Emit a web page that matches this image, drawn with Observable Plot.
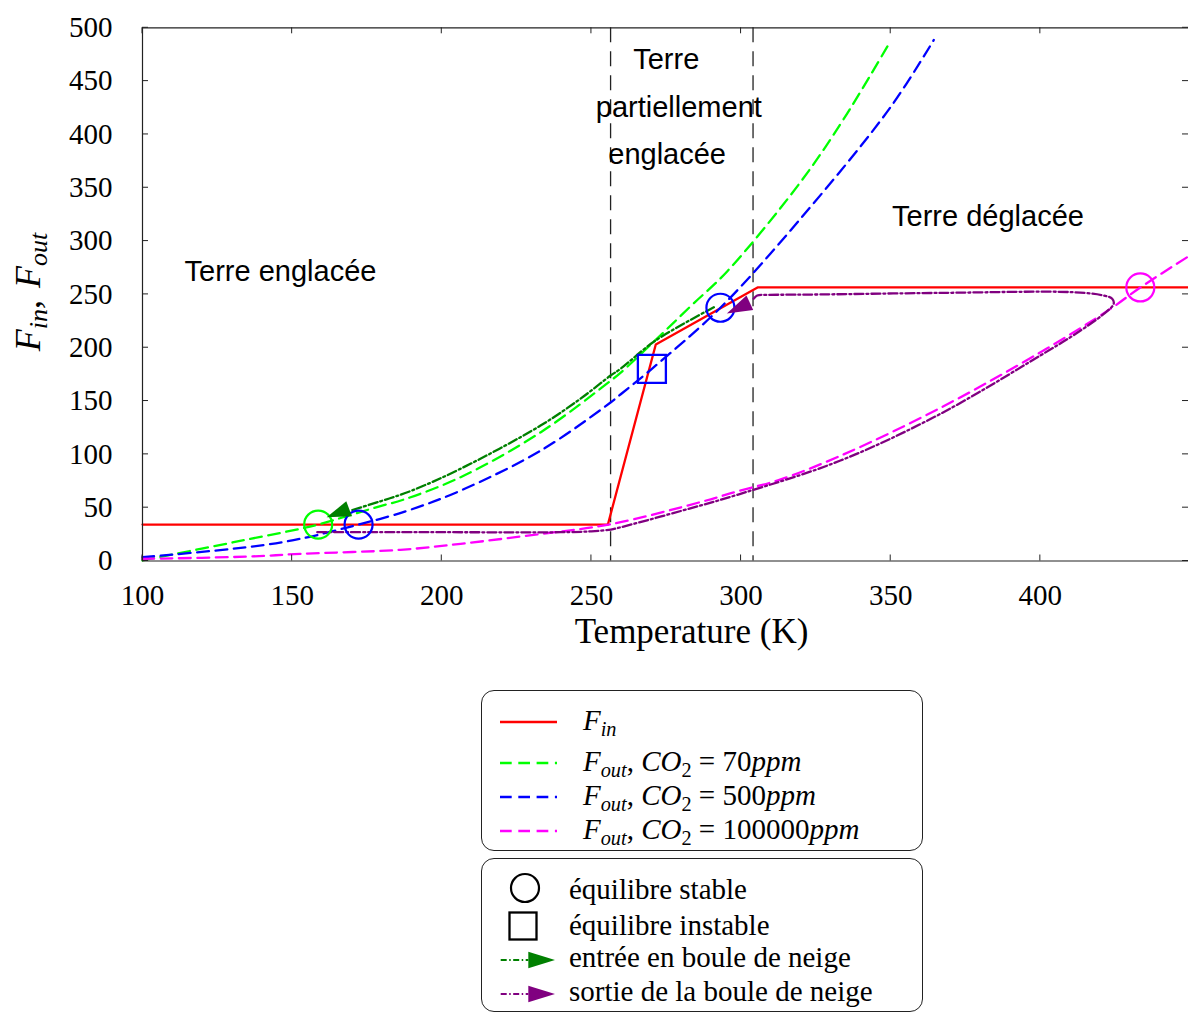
<!DOCTYPE html>
<html>
<head>
<meta charset="utf-8">
<script src="https://cdn.jsdelivr.net/npm/d3@7"></script>
<script src="https://cdn.jsdelivr.net/npm/@observablehq/plot@0.6"></script>
<style>
  html, body { margin: 0; padding: 0; background: #fff; }
  #wrap { position: relative; width: 1188px; height: 1013px; overflow: hidden; background: #fff; }
  #chart { position: absolute; left: 0; top: 0; }
  .box { position: absolute; border: 1.3px solid #222; border-radius: 13px; box-sizing: border-box; background: #fff; }
  .lt { position: absolute; font-family: "Liberation Serif", "DejaVu Serif", serif; font-size: 29px; line-height: 29px; white-space: nowrap; color: #000; }
  .lt sub { font-size: 70%; vertical-align: -0.3em; line-height: 0; }
  .sw { position: absolute; overflow: visible; }
</style>
</head>
<body>
<div id="wrap"><div id="chart"></div></div>
<script>
// ---------------- data ----------------
const xTicks = [100, 150, 200, 250, 300, 350, 400];
const yTicks = [0, 50, 100, 150, 200, 250, 300, 350, 400, 450, 500];
const xDomain = [100, 449.5];
const yDomain = [0, 500];

// F_in (absorbed flux)
const finT = [100, 255.5, 271.5, 305.5, 449.5];
const finF = [34.2, 34.2, 203, 256.5, 256.5];

// F_out, CO2 = 70 ppm
const co70T = [100, 136, 152.7, 158.7, 179.5, 187.2, 206.3, 233.1, 256.5, 259.9, 272.1, 283.3, 295.5, 319.8, 334.3, 349.7];
const co70F = [0.5, 20.7, 30.2, 34.2, 51.5, 57.5, 78.6, 120.8, 169.2, 176.9, 209, 239.3, 272, 355.1, 414.5, 486.4];

// F_out, CO2 = 500 ppm
const co500T = [100, 136, 152.7, 172.2, 179.5, 189.5, 206.3, 233.1, 256.5, 259.9, 270.2, 293.1, 319.8, 349.9, 364.4];
const co500F = [3.5, 13.3, 20.8, 34.2, 39.6, 48, 66, 103.6, 148.9, 156.6, 180.2, 237.5, 320.8, 425.4, 488.6];

// F_out, CO2 = 100000 ppm
const co1eT = [100, 136, 152.7, 186.2, 206.3, 233.1, 256.5, 286.5, 300, 312.3, 333.5, 367, 400.5, 423.4, 433.4, 449.0];
const co1eF = [2, 4.2, 6.7, 10.5, 16.1, 25.4, 34.5, 55.3, 66.3, 75.6, 99, 144.2, 196.5, 236.4, 256.5, 284.8];

// entrée en boule de neige (path)
const entryT = [290.9, 271.4, 259.7, 256.4, 246.3, 233, 206.2, 189.5, 179.5, 169.5];
const entryF = [237.9, 206.7, 180.2, 173.9, 152.1, 127, 86.4, 65.5, 56, 47.3];

// sortie de la boule de neige (path)
const exitT = [158.4, 200, 239.7, 250, 256.5, 259.9, 280, 299.8, 333.2, 366.6, 400, 411.2, 421.2, 424.5, 424, 421.2, 411.2, 366.6, 322.1, 309, 305.4, 303.7];
const exitF = [27, 27, 27, 27.8, 29.5, 31.7, 47, 63, 94.2, 138, 192.7, 212, 231.7, 241.1, 246, 248.9, 252, 251.4, 249.8, 249.5, 248.9, 244.2];

// arrow heads at the end of each path
const arrowSeries = ["entry", "exit"];
const arrowBaseT = [169.2, 303.1];
const arrowBaseF = [48.5, 241.7];
const arrowTipT = [161.7, 295.4];
const arrowTipF = [40.5, 231.7];

// equilibria
const stableSeries = ["co70", "co500", "co500", "co1e"];
const stableT = [158.7, 172.2, 293.1, 433.4];
const stableF = [34.2, 34.2, 237.5, 256.5];
const unstableSeries = ["co500"];
const unstableT = [270.2];
const unstableF = [180.2];

// region boundaries and labels
const boundaryT = [256.4, 304];
const regionText = ["Terre englacée", "Terre", "partiellement", "englacée", "Terre déglacée"];
const regionT = [146.1, 275.0, 279.2, 275.3, 382.5];
const regionF = [271.7, 470.1, 424.8, 381.1, 323.2];

const xTitle = "Temperature (K)";

// ---------------- styles ----------------
const colors = { fin: "#ff0000", co70: "#00ff00", co500: "#0000ff", co1e: "#ff00ff", entry: "#008000", exit: "#800080" };
const DASH = "11.7,6.6";
const DASHDOT = "9,3,2,3";
const LW = 2.3;

const zip = (T, F, extra = {}) => T.map((t, i) => ({ T: t, F: F[i], ...extra }));
const fin = zip(finT, finF);
const co70 = zip(co70T, co70F);
const co500 = zip(co500T, co500F);
const co1e = zip(co1eT, co1eF);
const entry = zip(entryT, entryF);
const exit = zip(exitT, exitF);
const stable = stableT.map((t, i) => ({ T: t, F: stableF[i], s: stableSeries[i] }));
const unstable = unstableT.map((t, i) => ({ T: t, F: unstableF[i], s: unstableSeries[i] }));
const arrows = arrowSeries.map((s, i) => ({ s, bT: arrowBaseT[i], bF: arrowBaseF[i], tT: arrowTipT[i], tF: arrowTipF[i] }));
const regions = regionText.map((t, i) => ({ text: t, T: regionT[i], F: regionF[i] }));

// custom marks (drawn through Plot's scales)
function arrowHeads(index, scales) {
  const x = scales.x, y = scales.y;
  const g = d3.create("svg:g");
  for (const a of arrows) {
    const bx = x(a.bT), by = y(a.bF), tx = x(a.tT), ty = y(a.tF);
    const dx = tx - bx, dy = ty - by, L = Math.hypot(dx, dy);
    const nx = -dy / L, ny = dx / L, hw = 8;
    g.append("path")
      .attr("d", `M${tx},${ty}L${bx + nx * hw},${by + ny * hw}L${bx - nx * hw},${by - ny * hw}Z`)
      .attr("fill", colors[a.s]);
  }
  return g.node();
}

function innerTicks(index, scales, values, dims) {
  const x = scales.x, y = scales.y;
  const left = dims.marginLeft, right = dims.width - dims.marginRight;
  const top = dims.marginTop, bottom = dims.height - dims.marginBottom;
  const L = 6;
  const g = d3.create("svg:g").attr("stroke", "#222").attr("stroke-width", 1);
  for (const t of xTicks) {
    const px = x(t);
    g.append("line").attr("x1", px).attr("x2", px).attr("y1", bottom).attr("y2", bottom - L);
    g.append("line").attr("x1", px).attr("x2", px).attr("y1", top).attr("y2", top + L);
  }
  for (const v of yTicks) {
    const py = y(v);
    g.append("line").attr("y1", py).attr("y2", py).attr("x1", left).attr("x2", left + L);
    g.append("line").attr("y1", py).attr("y2", py).attr("x1", right).attr("x2", right - L);
  }
  return g.node();
}

function yTitle(index, scales, values, dims) {
  const t = d3.create("svg:text")
    .attr("transform", "translate(40,292) rotate(-90)")
    .attr("text-anchor", "middle")
    .attr("font-family", '"Liberation Serif", serif')
    .attr("font-size", 36)
    .attr("font-style", "italic")
    .attr("fill", "#000");
  t.append("tspan").text("F");
  t.append("tspan").attr("font-size", 26).attr("dy", 7).text("in");
  t.append("tspan").attr("dy", -7).attr("font-style", "normal").text(",");
  t.append("tspan").attr("dx", 12).text("F");
  t.append("tspan").attr("font-size", 26).attr("dy", 7).text("out");
  return t.node();
}

const chart = Plot.plot({
  width: 1188,
  height: 670,
  marginLeft: 142,
  marginRight: 0,
  marginTop: 27.3,
  marginBottom: 109.5,
  style: { fontFamily: '"Liberation Serif", serif', fontSize: "29px", background: "#fff", color: "#000", overflow: "visible" },
  x: { domain: xDomain, ticks: xTicks, tickSize: 0, tickPadding: 23, tickFormat: d => String(d), label: null },
  y: { domain: yDomain, ticks: yTicks, tickSize: 0, tickPadding: 30, tickFormat: d => String(d), label: null },
  marks: [
    Plot.ruleX(boundaryT, { stroke: "#222", strokeWidth: 1.3, strokeDasharray: "15,9" }),
    Plot.line(fin, { x: "T", y: "F", stroke: colors.fin, strokeWidth: LW }),
    Plot.line(co70, { x: "T", y: "F", stroke: colors.co70, strokeWidth: LW, strokeDasharray: DASH, curve: "catmull-rom" }),
    Plot.line(co500, { x: "T", y: "F", stroke: colors.co500, strokeWidth: LW, strokeDasharray: DASH, curve: "catmull-rom" }),
    Plot.line(co1e, { x: "T", y: "F", stroke: colors.co1e, strokeWidth: LW, strokeDasharray: DASH, curve: "catmull-rom" }),
    Plot.line(entry, { x: "T", y: "F", stroke: colors.entry, strokeWidth: LW, strokeDasharray: DASHDOT, curve: "catmull-rom" }),
    Plot.line(exit, { x: "T", y: "F", stroke: colors.exit, strokeWidth: LW, strokeDasharray: DASHDOT, curve: "catmull-rom" }),
    ...["co70", "co500", "co1e"].map(s =>
      Plot.dot(stable.filter(d => d.s === s), { x: "T", y: "F", r: 14, stroke: colors[s], strokeWidth: 2.2, fill: "none" })),
    Plot.dot(unstable, { x: "T", y: "F", r: 15.8, symbol: "square", stroke: colors.co500, strokeWidth: 2.3, fill: "none" }),
    arrowHeads,
    Plot.ruleX([xDomain[0]], { stroke: "#222", strokeWidth: 1.2 }),
    Plot.ruleY(yDomain, { stroke: "#222", strokeWidth: 1.2 }),
    innerTicks,
    Plot.text(regions, { x: "T", y: "F", text: "text", fontFamily: '"Liberation Sans", Arial, sans-serif', fontSize: 29, fill: "#000" }),
    Plot.text([xTitle], { frameAnchor: "bottom", dx: 26, dy: 82, fontSize: 35, fill: "#000" }),
    yTitle
  ]
});
document.getElementById("chart").appendChild(chart);

// ---------------- legend (below the plot) ----------------
const legendLines = [
  { html: "<i>F</i><sub><i>in</i></sub>", s: "fin", dash: null },
  { html: "<i>F</i><sub><i>out</i></sub>, <i>CO</i><sub>2</sub> = 70<i>ppm</i>", s: "co70", dash: DASH },
  { html: "<i>F</i><sub><i>out</i></sub>, <i>CO</i><sub>2</sub> = 500<i>ppm</i>", s: "co500", dash: DASH },
  { html: "<i>F</i><sub><i>out</i></sub>, <i>CO</i><sub>2</sub> = 100000<i>ppm</i>", s: "co1e", dash: DASH }
];
const legendMarkers = [
  { text: "équilibre stable", kind: "circle" },
  { text: "équilibre instable", kind: "square" },
  { text: "entrée en boule de neige", kind: "arrow", s: "entry" },
  { text: "sortie de la boule de neige", kind: "arrow", s: "exit" }
];

const wrap = d3.select("#wrap");
wrap.append("div").attr("class", "box").style("left", "481px").style("top", "690px").style("width", "442px").style("height", "161px");
wrap.append("div").attr("class", "box").style("left", "481px").style("top", "858px").style("width", "442px").style("height", "154px");

const row1Center = [721.7, 762.7, 796.7, 830.7];
const row1Base = [730, 771, 805, 839];
legendLines.forEach((d, i) => {
  const svg = wrap.append("svg").attr("class", "sw").attr("width", 70).attr("height", 20)
    .style("left", "495px").style("top", (row1Center[i] - 10) + "px");
  const ln = svg.append("line").attr("x1", 5).attr("x2", 62).attr("y1", 10).attr("y2", 10)
    .attr("stroke", colors[d.s]).attr("stroke-width", LW);
  if (d.dash) ln.attr("stroke-dasharray", d.dash);
  wrap.append("div").attr("class", "lt").style("left", "583px").style("top", (row1Base[i] - 24.3) + "px").html(d.html);
});

const row2Center = [887.5, 925.8, 960, 994];
const row2Base = [899, 935, 967, 1001];
legendMarkers.forEach((d, i) => {
  const svg = wrap.append("svg").attr("class", "sw").attr("width", 70).attr("height", 36)
    .style("left", "495px").style("top", (row2Center[i] - 18) + "px");
  if (d.kind === "circle") {
    svg.append("circle").attr("cx", 30).attr("cy", 18).attr("r", 14).attr("fill", "none").attr("stroke", "#000").attr("stroke-width", 2.2);
  } else if (d.kind === "square") {
    svg.append("rect").attr("x", 14.5).attr("y", 4.5).attr("width", 27).attr("height", 27).attr("fill", "none").attr("stroke", "#000").attr("stroke-width", 2.3);
  } else {
    svg.append("line").attr("x1", 5.7).attr("x2", 33.3).attr("y1", 18).attr("y2", 18)
      .attr("stroke", colors[d.s]).attr("stroke-width", 2).attr("stroke-dasharray", "6,2.5,1.5,2.5");
    svg.append("path").attr("d", "M33.3,9.7L60,18L33.3,26.3Z").attr("fill", colors[d.s]);
  }
  wrap.append("div").attr("class", "lt").style("left", "569px").style("top", (row2Base[i] - 24.3) + "px").text(d.text);
});
</script>
</body>
</html>
